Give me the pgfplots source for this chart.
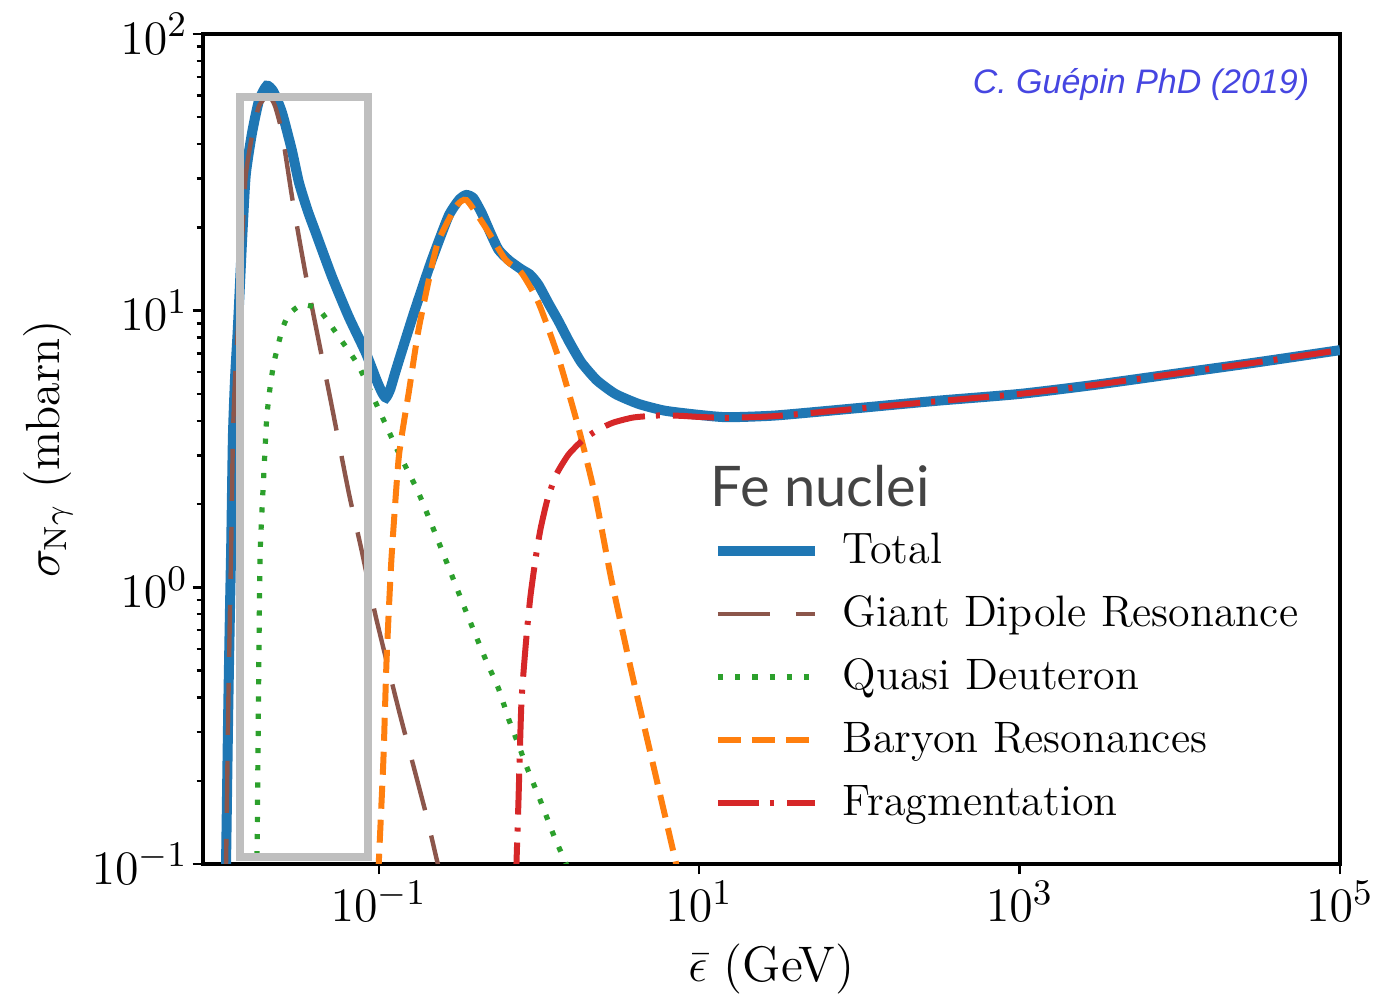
\documentclass[border=0pt]{standalone}
\usepackage{pgfplots}
\pgfplotsset{compat=1.18}
\usepackage{fontspec}
\newfontfamily\titlefont{Lato}
\newfontfamily\signfont{Liberation Sans}

\definecolor{tabblue}{HTML}{1F77B4}
\definecolor{tabbrown}{HTML}{8C564B}
\definecolor{tabgreen}{HTML}{2CA02C}
\definecolor{taborange}{HTML}{FF7F0E}
\definecolor{tabred}{HTML}{D62728}
\definecolor{boxgray}{HTML}{BFBFBF}
\definecolor{signblue}{RGB}{70,70,225}
\definecolor{titlegray}{HTML}{444444}

\begin{document}
\fontsize{11}{13.2}\selectfont
\begin{tikzpicture}
\path[use as bounding box] (-50.75pt,-32.75pt) rectangle (293pt,216pt);
\begin{loglogaxis}[
  scale only axis,
  width=284.25pt, height=207.5pt,
  xmin=0.008, xmax=1e5,
  ymin=0.1, ymax=100,
  xtick={0.1,10,1000,100000},
  ytick={0.1,1,10,100},
  xminorticks=false,
  tick align=outside, tick pos=left,
  major tick length=2.6pt, minor tick length=1.6pt,
  every tick/.style={black, line width=0.6pt},
  axis line style={line width=0.8pt},
  tick label style={font=\fontsize{12.5}{15}\selectfont},
  yticklabel style={inner sep=1pt},
  xticklabel style={inner sep=1.5pt},
  every axis x label/.style={at={(axis description cs:0.5,-0.126)}, anchor=center,
    inner sep=0pt, font=\fontsize{12.5}{15}\selectfont},
  every axis y label/.style={at={(axis description cs:-0.1363,0.5)}, rotate=90, anchor=center,
    inner sep=0pt, font=\fontsize{12}{14.4}\selectfont},
  xlabel={$\bar{\epsilon}$ (GeV)},
  ylabel={$\sigma_{\mathrm{N}\gamma}$ (mbarn)},
  legend style={draw=none, fill=none, at={(rel axis cs:0.4485,0.4036)}, anchor=north west,
    inner sep=0pt, outer sep=0pt, row sep=4.75pt, column sep=5.75pt,
    nodes={inner sep=0pt, text height=8.5pt, text depth=2.5pt}},
  legend cell align=left,
  legend image code/.code={\draw[#1] (0pt,0pt) -- (24.25pt,0pt);},
]

% Total
\addplot[tabblue, line width=2.5pt, smooth, tension=0.35] coordinates {
(0.0110,0.08) (0.01114,0.1) (0.0115,0.36) (0.0118,0.85) (0.0120,1.4) (0.0123,3.5)
(0.0127,5.8) (0.0132,8.6) (0.0141,19) (0.0148,31) (0.0162,44) (0.0179,57.5)
(0.0200,65) (0.0220,62) (0.0249,52) (0.0287,38) (0.0318,29) (0.0360,23)
(0.0405,19.1) (0.051,13.3) (0.065,9.5) (0.083,7.05) (0.097,5.6) (0.105,5.05)
(0.111,4.85) (0.118,5.2) (0.127,6.0) (0.139,7.1) (0.161,9.3) (0.177,11)
(0.214,15.2) (0.273,22) (0.320,25.3) (0.353,26.2) (0.39,25.5) (0.44,22.5)
(0.50,19) (0.56,16.6) (0.65,15.2) (0.778,14.1) (0.88,13.5) (0.993,12.4)
(1.15,10.6) (1.32,9.2) (1.55,7.7) (1.84,6.5) (2.3,5.6) (3.0,5.0) (4.2,4.6)
(6.1,4.35) (10,4.2) (15,4.12) (30,4.18) (100,4.45) (300,4.72) (1000,5.0)
(3000,5.4) (10000,5.95) (30000,6.5) (100000,7.2)
};
\addlegendentry{Total}

% Giant Dipole Resonance
\addplot[tabbrown, line width=1.1pt, dash pattern=on 13pt off 6.5pt, smooth, tension=0.35] coordinates {
(0.0110,0.08) (0.01114,0.1) (0.0115,0.36) (0.0118,0.85) (0.0120,1.4) (0.0123,3.5)
(0.0127,5.8) (0.0132,8.6) (0.0141,19) (0.0148,31) (0.0162,43) (0.0179,55)
(0.0205,60) (0.0225,55) (0.0249,44) (0.0287,26) (0.0320,18) (0.0356,12.8)
(0.0394,9.5) (0.0454,6.3) (0.051,4.5) (0.065,2.2) (0.078,1.37) (0.0958,0.785)
(0.133,0.363) (0.196,0.154) (0.23,0.104) (0.24,0.095)
};
\addlegendentry{Giant Dipole Resonance}

% Quasi Deuteron
\addplot[tabgreen, line width=1.3pt, dash pattern=on 1.3pt off 3pt, smooth, tension=0.35] coordinates {
(0.0172,0.08) (0.01738,0.1) (0.0178,0.45) (0.01815,1.26) (0.0186,1.8) (0.0192,2.6)
(0.0200,4.1) (0.0210,5.3) (0.0222,6.5) (0.0249,8.5) (0.0275,9.7) (0.0331,10.5)
(0.0423,10.1) (0.0563,8.05) (0.075,6.3) (0.1,4.4) (0.133,3.07) (0.177,2.2)
(0.247,1.37) (0.35,0.82) (0.464,0.55) (0.56,0.43) (0.646,0.335) (0.745,0.27)
(0.85,0.22) (1.04,0.165) (1.25,0.125) (1.48,0.1) (1.55,0.092)
};
\addlegendentry{Quasi Deuteron}

% Baryon Resonances
\addplot[taborange, line width=1.5pt, dash pattern=on 5.75pt off 2.75pt, smooth, tension=0.35] coordinates {
(0.0995,0.09) (0.1,0.1) (0.107,0.24) (0.112,0.55) (0.12,1.26) (0.133,2.9)
(0.147,4.3) (0.154,5.06) (0.177,8.5) (0.214,14.4) (0.237,18) (0.302,23.7)
(0.353,25.1) (0.464,20) (0.618,15.3) (0.778,13.7) (0.993,10.7) (1.32,6.8)
(1.76,3.8) (2.25,2.13) (2.83,1.07) (3.77,0.5) (5.02,0.245) (7.08,0.104) (7.3,0.095)
};
\addlegendentry{Baryon Resonances}

% Fragmentation
\addplot[tabred, line width=1.5pt, dash pattern=on 10.25pt off 2.75pt on 1pt off 3.25pt, smooth, tension=0.35] coordinates {
(0.72,0.085) (0.724,0.1) (0.745,0.1675) (0.778,0.385) (0.836,0.665) (0.885,0.928)
(0.951,1.26) (1.022,1.62) (1.13,2.08) (1.285,2.56) (1.53,3.02) (1.89,3.42)
(2.35,3.72) (2.91,3.94) (3.88,4.11) (5.56,4.18) (7.5,4.17)
(10,4.13) (15,4.1) (30,4.16) (100,4.43) (300,4.7) (1000,5.0) (3000,5.4)
(10000,5.95) (30000,6.5) (100000,7.2)
};
\addlegendentry{Fragmentation}

% highlighted region
\addplot[boxgray, line width=2pt, forget plot] coordinates {
(0.01361,0.106) (0.0854,0.106) (0.0854,59.3) (0.01361,59.3)
} -- cycle;

\node[anchor=west, inner sep=0pt, text=titlegray, font=\titlefont\fontsize{14}{16}\selectfont]
  at (rel axis cs:0.446,0.4554) {Fe nuclei};
\node[anchor=east, inner sep=0pt, text=signblue, font=\signfont\itshape\fontsize{8.5}{10}\selectfont]
  at (rel axis cs:0.9736,0.9386) {C. Guépin PhD (2019)};
\end{loglogaxis}
\end{tikzpicture}
\end{document}
